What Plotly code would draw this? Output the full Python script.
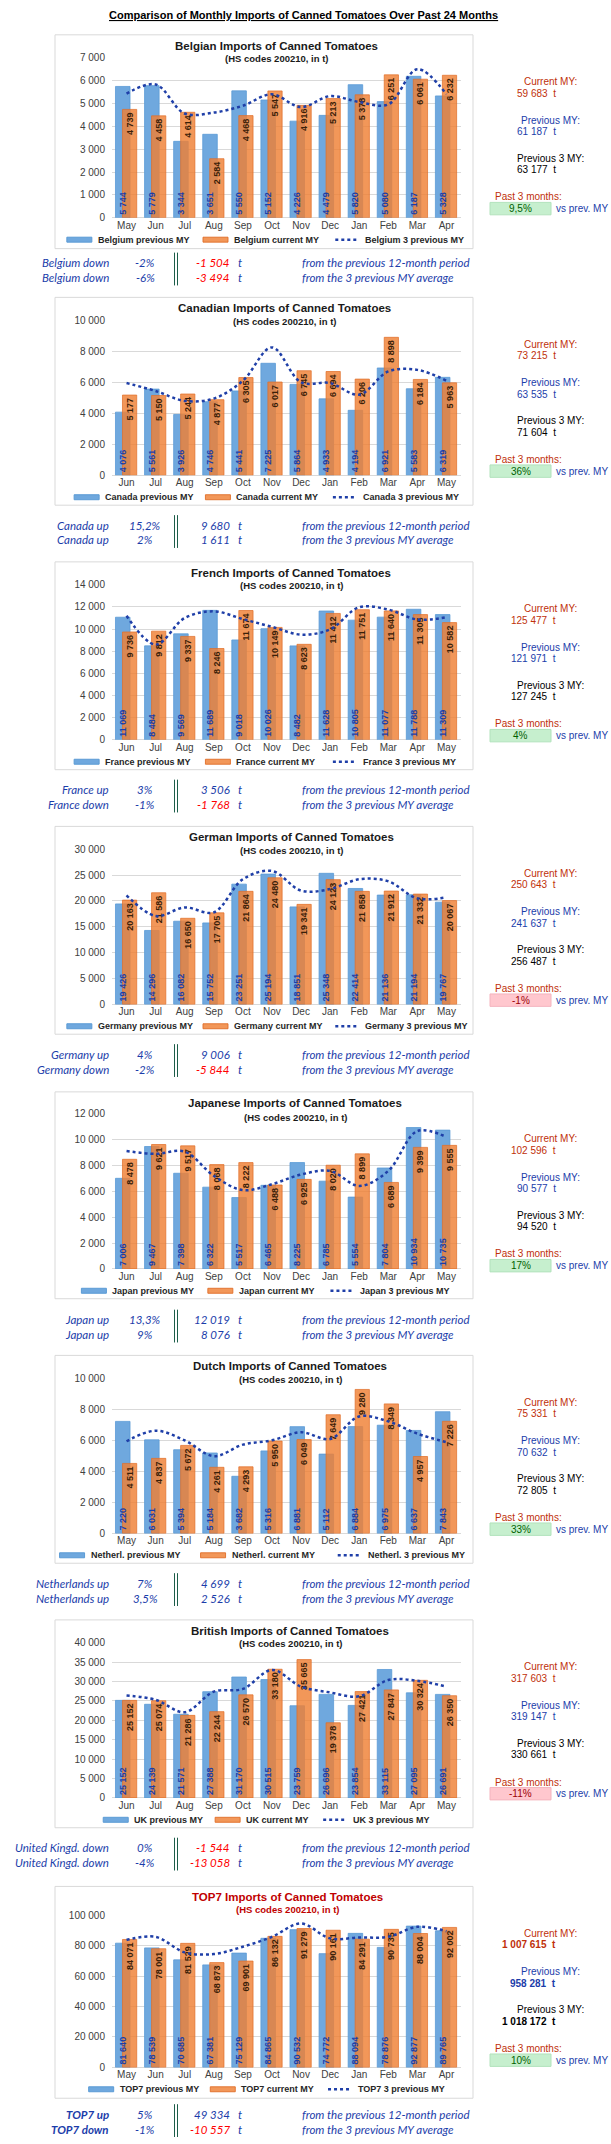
import plotly.graph_objects as go

W, H = 611, 2144

# ------------------------------------------------------------------ data
months_may = ["May", "Jun", "Jul", "Aug", "Sep", "Oct", "Nov", "Dec", "Jan", "Feb", "Mar", "Apr"]
months_jun = ["Jun", "Jul", "Aug", "Sep", "Oct", "Nov", "Dec", "Jan", "Feb", "Mar", "Apr", "May"]

belgium_prev = [5744, 5779, 3344, 3651, 5550, 5152, 4226, 4479, 5820, 5080, 6187, 5328]
belgium_cur = [4739, 4458, 4614, 2584, 4468, 5547, 4916, 5213, 5378, 6251, 6061, 6232]
belgium_avg3 = [5430, 5830, 4560, 4600, 4900, 5400, 4840, 5320, 5060, 4960, 6500, 5400]

canada_prev = [4076, 5561, 3926, 4746, 5441, 7225, 5864, 4933, 4194, 6921, 5583, 6319]
canada_cur = [5177, 5150, 5244, 4877, 6305, 6017, 6745, 6694, 6206, 8898, 6184, 5963]
canada_avg3 = [5950, 5440, 4800, 4950, 6100, 8250, 6000, 5950, 5200, 6700, 6800, 6100]

france_prev = [11069, 8484, 9569, 11689, 9018, 10026, 8482, 11628, 10805, 11077, 11788, 11309]
france_cur = [9736, 9812, 9337, 8246, 11674, 10149, 8623, 11412, 11751, 11640, 11305, 10582]
france_avg3 = [11200, 8600, 11000, 11600, 10900, 10200, 9500, 9970, 11970, 11760, 10860, 11070]

germany_prev = [19426, 14296, 16082, 15752, 23251, 25194, 18851, 25348, 22414, 21136, 21194, 19767]
germany_cur = [20163, 21586, 16650, 17705, 21864, 24480, 19341, 24123, 21858, 21912, 21332, 20067]
germany_avg3 = [21100, 17100, 18750, 17800, 24200, 25800, 22000, 22300, 24200, 23800, 20500, 20700]

japan_prev = [7006, 9467, 7398, 6322, 5517, 6465, 8225, 6785, 5554, 7804, 10934, 10735]
japan_cur = [8478, 9621, 9517, 8068, 8222, 6488, 6925, 8020, 8899, 6689, 9399, 9555]
japan_avg3 = [9120, 8900, 9070, 7200, 6090, 6550, 7300, 7580, 6420, 7580, 10660, 10200]

netherl_prev = [7220, 6031, 5394, 5184, 3682, 5316, 6881, 5112, 6884, 6975, 6637, 7843]
netherl_cur = [4511, 4837, 5672, 4261, 4293, 5950, 6049, 7649, 9280, 8349, 4957, 7226]
netherl_avg3 = [5940, 6620, 6000, 4980, 5720, 6000, 6520, 6090, 7540, 7220, 6430, 5880]

uk_prev = [25152, 24139, 21571, 27388, 31170, 30515, 23759, 26696, 23854, 33115, 27095, 26691]
uk_cur = [25152, 25074, 21286, 22244, 26570, 33180, 35665, 19378, 27421, 27847, 30324, 26350]
uk_avg3 = [26400, 25300, 22100, 27400, 28100, 33000, 28700, 27200, 26200, 30400, 30200, 28700]

top7_prev = [81640, 78539, 70685, 67381, 75129, 84865, 90532, 74772, 88094, 78876, 92877, 89765]
top7_cur = [84071, 78001, 81529, 68873, 69901, 86132, 91279, 90161, 84291, 90735, 88004, 92002]
top7_avg3 = [83700, 85800, 75600, 74500, 79300, 85800, 94600, 84800, 85400, 85800, 92400, 89500]

panel_titles = ["Belgian Imports of Canned Tomatoes", "Canadian Imports of Canned Tomatoes",
                "French Imports of Canned Tomatoes", "German Imports of Canned Tomatoes",
                "Japanese Imports of Canned Tomatoes", "Dutch Imports of Canned Tomatoes",
                "British Imports of Canned Tomatoes", "TOP7 Imports of Canned Tomatoes"]
legend_names = ["Belgium", "Canada", "France", "Germany", "Japan", "Netherl.", "UK", "TOP7"]
y_max = [7000, 10000, 14000, 30000, 12000, 10000, 40000, 100000]
y_step = [1000, 2000, 2000, 5000, 2000, 2000, 5000, 20000]

current_my = [59683, 73215, 125477, 250643, 102596, 75331, 317603, 1007615]
previous_my = [61187, 63535, 121971, 241637, 90577, 70632, 319147, 958281]
previous3_my = [63177, 71604, 127245, 256487, 94520, 72805, 330661, 1018172]
past3_pct = ["9,5%", "36%", "4%", "-1%", "17%", "33%", "-11%", "10%"]

row1_label = ["Belgium down", "Canada up", "France up", "Germany up", "Japan up",
              "Netherlands up", "United Kingd. down", "TOP7 up"]
row1_pct = ["-2%", "15,2%", "3%", "4%", "13,3%", "7%", "0%", "5%"]
row1_diff = [-1504, 9680, 3506, 9006, 12019, 4699, -1544, 49334]
row2_label = ["Belgium down", "Canada up", "France down", "Germany down", "Japan up",
              "Netherlands up", "United Kingd. down", "TOP7 down"]
row2_pct = ["-6%", "2%", "-1%", "-2%", "9%", "3,5%", "-4%", "-1%"]
row2_diff = [-3494, 1611, -1768, -5844, 8076, 2526, -13058, -10557]

series = [
    (months_may, belgium_prev, belgium_cur, belgium_avg3),
    (months_jun, canada_prev, canada_cur, canada_avg3),
    (months_jun, france_prev, france_cur, france_avg3),
    (months_jun, germany_prev, germany_cur, germany_avg3),
    (months_jun, japan_prev, japan_cur, japan_avg3),
    (months_may, netherl_prev, netherl_cur, netherl_avg3),
    (months_jun, uk_prev, uk_cur, uk_avg3),
    (months_may, top7_prev, top7_cur, top7_avg3),
]

# ------------------------------------------------------------------ geometry (px)
box_top = [29, 293, 559, 825, 1092, 1357, 1623, 1891]
box_h = [215, 209, 209, 209, 208, 209, 209, 213]
grid_top = [23, 23, 23, 23, 22, 23, 23, 29]
zero_off = [184, 179, 179, 179, 178, 179, 179, 182]
title_x = [276, 284, 291, 291, 295, 290, 290, 287]
sub_off = [24, 24, 24, 24, 26, 24, 24, 23]
BOX_L, BOX_R = 55, 473
PLOT_L, PLOT_R = 112, 461

FONT = "Liberation Sans"
ITAL = "Lato"
C_PREV = "#6FA8DE"
C_PREV_L = "#5B9BD5"
C_CUR = "rgba(239,128,52,0.82)"
C_CUR_L = "rgba(224,110,40,0.9)"
C_LINE = "#1F3FA8"
C_BLUE = "#1B3DAA"
C_RED = "#C0300A"
C_TXT = "#404040"


def fx(p):
    return p / W


def fy(p):
    return 1 - p / H


def fmt(v):
    return f"{v:,}".replace(",", " ")


fig = go.Figure()
shapes = []
ann = []


def text(x, y, s, size=11, color="#000", anchor="center", family=FONT, yanchor="middle"):
    ann.append(dict(x=fx(x), y=fy(y), xref="paper", yref="paper", text=s, showarrow=False,
                    xanchor=anchor, yanchor=yanchor,
                    font=dict(size=size, color=color, family=family)))


# main title
text(303, 9, "<b><u>Comparison of Monthly Imports of Canned Tomatoes Over Past 24 Months</u></b>", 11, "#000")

for i in range(8):
    months, prev, cur, avg3 = series[i]
    ax = "" if i == 0 else str(i + 1)
    xa, ya = "x" + ax, "y" + ax
    t = box_top[i]

    # chart box
    shapes.append(dict(type="rect", xref="paper", yref="paper", x0=fx(BOX_L), x1=fx(BOX_R),
                       y0=fy(t), y1=fy(t + box_h[i]), line=dict(color="#D9D9D9", width=1),
                       fillcolor="rgba(0,0,0,0)", layer="below"))

    fig.add_trace(go.Bar(x=months, y=prev, xaxis=xa, yaxis=ya, offset=-0.38, width=0.5,
                         marker=dict(color=C_PREV, line=dict(color=C_PREV_L, width=0.8)),
                         hoverinfo="skip", showlegend=False))
    fig.add_trace(go.Bar(x=months, y=cur, xaxis=xa, yaxis=ya, offset=-0.14, width=0.49,
                         marker=dict(color=C_CUR, line=dict(color=C_CUR_L, width=0.8)),
                         hoverinfo="skip", showlegend=False))
    # value labels (transparent bars on top)
    pfont = dict(size=9, color=C_BLUE, family=FONT, weight="bold")
    cfont = dict(size=9, color="#3A2008", family=FONT, weight="bold")
    fig.add_trace(go.Bar(x=months, y=prev, xaxis=xa, yaxis=ya, offset=-0.38, width=0.5,
                         marker=dict(color="rgba(255,255,255,0)", line=dict(width=0)),
                         text=[fmt(v) for v in prev],
                         textposition="inside", insidetextanchor="start", textangle=-90,
                         textfont=pfont, insidetextfont=pfont,
                         hoverinfo="skip", showlegend=False))
    fig.add_trace(go.Bar(x=months, y=cur, xaxis=xa, yaxis=ya, offset=-0.14, width=0.49,
                         marker=dict(color="rgba(255,255,255,0)", line=dict(width=0)),
                         text=[fmt(v) for v in cur],
                         textposition="inside", insidetextanchor="end", textangle=-90,
                         textfont=cfont, insidetextfont=cfont,
                         hoverinfo="skip", showlegend=False))
    fig.add_trace(go.Scatter(x=months, y=avg3, xaxis=xa, yaxis=ya, mode="lines",
                             line=dict(color=C_LINE, width=2.5, dash="dot", shape="spline"),
                             hoverinfo="skip", showlegend=False))

    fig.layout["xaxis" + ax] = dict(domain=[fx(PLOT_L), fx(PLOT_R)], anchor=ya, type="category",
                                    range=[-0.5, 11.5], showgrid=False, zeroline=False,
                                    showline=False, ticks="", fixedrange=True,
                                    tickfont=dict(size=10, color=C_TXT, family=FONT))
    fig.layout["yaxis" + ax] = dict(domain=[fy(t + zero_off[i]), fy(t + grid_top[i])], anchor=xa,
                                    range=[0, y_max[i]], dtick=y_step[i], tickformat=",d",
                                    showgrid=True, gridcolor="#D9D9D9", gridwidth=1,
                                    zeroline=True, zerolinecolor="#D9D9D9", zerolinewidth=1,
                                    showline=False, ticks="", ticklabelstandoff=6, fixedrange=True,
                                    tickfont=dict(size=10, color=C_TXT, family=FONT))

    # titles
    tcol = "#C00000" if i == 7 else "#1A1A1A"
    text(title_x[i], t + 11, "<b>" + panel_titles[i] + "</b>", 11.5, tcol)
    text(title_x[i], t + sub_off[i], "<b>(HS codes 200210, in t)</b>", 9.5, tcol)

    # custom legend
    names = [legend_names[i] + " previous MY", legend_names[i] + " current MY",
             legend_names[i] + " 3 previous MY"]
    cw = 4.85
    widths = [25 + 4 + len(n) * cw for n in names]
    total = sum(widths) + 2 * 15
    x0 = 266 - total / 2
    ly = t + zero_off[i] + 22
    for k, n in enumerate(names):
        if k < 2:
            col = C_PREV if k == 0 else C_CUR
            lc = C_PREV_L if k == 0 else C_CUR_L
            shapes.append(dict(type="rect", xref="paper", yref="paper", x0=fx(x0), x1=fx(x0 + 25),
                               y0=fy(ly + 2.5), y1=fy(ly - 2.5), fillcolor=col,
                               line=dict(color=lc, width=1)))
        else:
            shapes.append(dict(type="line", xref="paper", yref="paper", x0=fx(x0 + 1), x1=fx(x0 + 24),
                               y0=fy(ly), y1=fy(ly), line=dict(color=C_LINE, width=2.5, dash="dot")))
        text(x0 + 29, ly, "<b>" + n + "</b>", 9, "#262626", anchor="left")
        x0 += widths[k] + 15

    # right column
    bold = i == 7

    def b(s):
        return "<b>" + s + "</b>" if bold else s

    RS = 10
    text(550, t + 47, "Current MY:", RS, C_RED)
    text(558, t + 58.5, b(fmt(current_my[i]) + "\u00a0\u00a0t"), RS, C_RED, anchor="right")
    text(550, t + 86, "Previous MY:", RS, C_BLUE)
    text(558, t + 97.5, b(fmt(previous_my[i]) + "\u00a0\u00a0t"), RS, C_BLUE, anchor="right")
    text(550, t + 124, "Previous 3 MY:", RS, "#000")
    text(558, t + 135.5, b(fmt(previous3_my[i]) + "\u00a0\u00a0t"), RS, "#000", anchor="right")
    text(528, t + 163, "Past 3 months:", RS, C_RED)
    neg = past3_pct[i].startswith("-")
    shapes.append(dict(type="rect", xref="paper", yref="paper", x0=fx(490), x1=fx(551),
                       y0=fy(t + 181), y1=fy(t + 168.5),
                       fillcolor="#FFC7CE" if neg else "#C6EFCE",
                       line=dict(color="#F4B4BE" if neg else "#B2E2BC", width=1)))
    text(520.5, t + 175, past3_pct[i], RS, "#9C0006" if neg else "#006100")
    text(554, t + 175, "vs prev. MY", RS, C_BLUE, anchor="left")

    # bottom rows
    for r, (lab, pct, dv, phrase, yy) in enumerate([
        (row1_label[i], row1_pct[i], row1_diff[i], "from the previous 12-month period", t + 229),
        (row2_label[i], row2_pct[i], row2_diff[i], "from the 3 previous MY average", t + 244),
    ]):
        labtxt = "<i><b>" + lab + "</b></i>" if i == 7 else "<i>" + lab + "</i>"
        text(111, yy, labtxt, 11.5, C_BLUE, anchor="right", family=ITAL)
        text(145, yy, "<i>" + pct + "</i>", 11.5, C_BLUE, family=ITAL)
        text(232, yy, "<i>" + fmt(dv) + "</i>", 11.5, "#FF0000" if dv < 0 else C_BLUE,
             anchor="right", family=ITAL)
        text(240, yy, "<i>t</i>", 11.5, C_BLUE, family=ITAL)
        text(300, yy, "<i>" + phrase + "</i>", 11.5, C_BLUE, anchor="left", family=ITAL)
    for lx in (174.5, 177.5):
        shapes.append(dict(type="line", xref="paper", yref="paper", x0=fx(lx), x1=fx(lx),
                           y0=fy(t + 219), y1=fy(t + 252), line=dict(color="#1D5E4A", width=1)))

fig.update_layout(width=W, height=H, margin=dict(l=0, r=0, t=0, b=0),
                  paper_bgcolor="white", plot_bgcolor="rgba(0,0,0,0)",
                  barmode="overlay", separators=", ",
                  uniformtext=dict(minsize=9, mode="show"),
                  shapes=shapes, annotations=ann, showlegend=False,
                  font=dict(family=FONT))

fig.write_html("out.html", config={"displayModeBar": False},
               post_script="document.body.style.margin='0';document.body.style.padding='0';")
